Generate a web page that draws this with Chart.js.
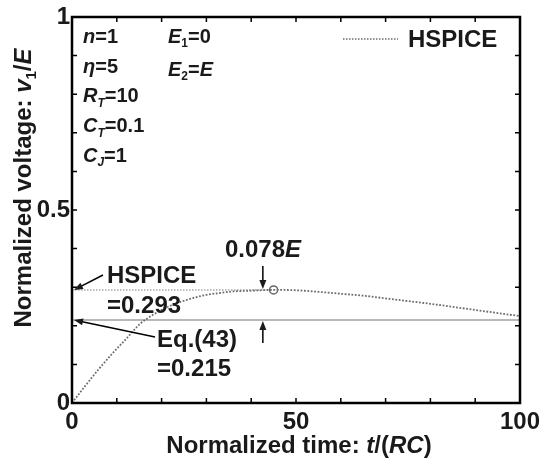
<!DOCTYPE html>
<html>
<head>
<meta charset="utf-8">
<style>
  html, body { margin: 0; padding: 0; background: #fff; }
  #wrap { width: 553px; height: 464px; }
</style>
<script src="https://cdn.jsdelivr.net/npm/chart.js@4/dist/chart.umd.min.js"></script>
</head>
<body>
<div id="wrap"><canvas id="c" width="553" height="464"></canvas></div>
<script>
// HSPICE response, normalized time vs normalized voltage
const tHspice = [0, 3, 6, 9, 12, 15, 18, 21, 24, 27, 30, 33, 36, 40, 45, 50, 55, 60, 65, 70, 75, 80, 85, 90, 95, 100];
const vHspice = [0, 0.045, 0.088, 0.128, 0.165, 0.203, 0.228, 0.247, 0.261, 0.272, 0.280, 0.285, 0.289, 0.291, 0.293, 0.292, 0.288, 0.283, 0.278, 0.271, 0.264, 0.257, 0.249, 0.241, 0.233, 0.225];

const tPeak = 45;
const vPeak = 0.293;   // HSPICE max
const vEq = 0.215;     // Eq.(43)
const tArrow = 42.6;   // where the 0.078E gap arrows sit

const xRange = [0, 100];
const yRange = [0, 1];
const xLabels = { 0: '0', 50: '50', 100: '100' };
const yLabels = { 0: '0', 5: '0.5', 10: '1' };

const params = [
  [{ t: 'n', it: 1 }, { t: '=1' }],
  [{ t: '\u03b7', it: 1 }, { t: '=5' }],
  [{ t: 'R', it: 1 }, { t: 'T', it: 1, sub: 1 }, { t: '=10' }],
  [{ t: 'C', it: 1 }, { t: 'T', it: 1, sub: 1 }, { t: '=0.1' }],
  [{ t: 'C', it: 1 }, { t: 'J', it: 1, sub: 1 }, { t: '=1' }],
];
const params2 = [
  [{ t: 'E', it: 1 }, { t: '1', sub: 1 }, { t: '=0' }],
  [{ t: 'E', it: 1 }, { t: '2', sub: 1 }, { t: '=' }, { t: 'E', it: 1 }],
];

const FAM = '"Liberation Sans", Arial, sans-serif';
const curveColor = '#6e6e6e';

function font(size, it) {
  return (it ? 'italic ' : '') + 'bold ' + size + 'px ' + FAM;
}

// draw a run of mixed italic / subscript text, returns width
function runs(ctx, parts, x, y, size, align) {
  const subSize = Math.round(size * 0.62);
  let w = 0;
  for (const p of parts) {
    ctx.font = font(p.sub ? subSize : size, p.it);
    w += ctx.measureText(p.t).width;
  }
  let cx = align === 'center' ? x - w / 2 : x;
  ctx.textAlign = 'left';
  ctx.textBaseline = 'alphabetic';
  for (const p of parts) {
    ctx.font = font(p.sub ? subSize : size, p.it);
    ctx.fillText(p.t, cx, y + (p.sub ? size * 0.22 : 0));
    cx += ctx.measureText(p.t).width;
  }
  return w;
}

function arrow(ctx, x1, y1, x2, y2) {
  const a = Math.atan2(y2 - y1, x2 - x1);
  const hl = 9, hw = 3.5;
  ctx.beginPath();
  ctx.moveTo(x1, y1);
  ctx.lineTo(x2 - Math.cos(a) * hl * 0.8, y2 - Math.sin(a) * hl * 0.8);
  ctx.stroke();
  ctx.beginPath();
  ctx.moveTo(x2, y2);
  ctx.lineTo(x2 - Math.cos(a) * hl - Math.sin(a) * hw, y2 - Math.sin(a) * hl + Math.cos(a) * hw);
  ctx.lineTo(x2 - Math.cos(a) * hl + Math.sin(a) * hw, y2 - Math.sin(a) * hl - Math.cos(a) * hw);
  ctx.closePath();
  ctx.fill();
}

const decor = {
  id: 'decor',
  afterDraw(chart) {
    const ctx = chart.ctx;
    const a = chart.chartArea;
    const xs = chart.scales.x, ys = chart.scales.y;
    ctx.save();
    ctx.strokeStyle = '#000';
    ctx.fillStyle = '#000';

    // inner ticks on all four sides
    ctx.lineWidth = 1.5;
    ctx.beginPath();
    for (const tk of xs.ticks) {
      const px = xs.getPixelForValue(tk.value);
      ctx.moveTo(px, a.bottom); ctx.lineTo(px, a.bottom - 5);
      ctx.moveTo(px, a.top); ctx.lineTo(px, a.top + 5);
    }
    for (const tk of ys.ticks) {
      const py = ys.getPixelForValue(tk.value);
      ctx.moveTo(a.left, py); ctx.lineTo(a.left + 5, py);
      ctx.moveTo(a.right, py); ctx.lineTo(a.right - 5, py);
    }
    ctx.stroke();

    // frame
    ctx.lineWidth = 2.5;
    ctx.strokeRect(a.left, a.top, a.right - a.left, a.bottom - a.top);

    // parameter block
    ctx.fillStyle = '#1a1a1a';
    params.forEach((p, i) => runs(ctx, p, 83, 43 + i * 29.7, 20));
    params2.forEach((p, i) => runs(ctx, p, 168, 43 + i * 33, 20));

    // legend
    ctx.save();
    ctx.strokeStyle = curveColor;
    ctx.lineWidth = 1.5;
    ctx.setLineDash([1.5, 1.5]);
    ctx.beginPath();
    ctx.moveTo(343, 39); ctx.lineTo(398, 39);
    ctx.stroke();
    ctx.restore();
    runs(ctx, [{ t: 'HSPICE' }], 408, 47, 24);

    // annotations
    const yP = ys.getPixelForValue(vPeak);
    const yE = ys.getPixelForValue(vEq);
    const x0 = xs.getPixelForValue(0);
    const xA = xs.getPixelForValue(tArrow);
    runs(ctx, [{ t: 'HSPICE' }], 107, 283, 24);
    runs(ctx, [{ t: '=0.293' }], 107, 313, 24);
    runs(ctx, [{ t: 'Eq.(43)' }], 157, 347, 24);
    runs(ctx, [{ t: '=0.215' }], 157, 376, 24);
    runs(ctx, [{ t: '0.078' }, { t: 'E', it: 1 }], 225, 257, 24);

    ctx.lineWidth = 1.5;
    arrow(ctx, 103, 275, x0 + 2, yP);
    arrow(ctx, 155, 337, x0 + 2, yE);
    arrow(ctx, xA, 266, xA, yP - 1);
    arrow(ctx, xA, 343, xA, yE + 1);

    // axis titles
    runs(ctx, [{ t: 'Normalized time: ' }, { t: 't', it: 1 }, { t: '/(' }, { t: 'RC', it: 1 }, { t: ')' }], 299, 453, 24, 'center');
    ctx.translate(31, 188);
    ctx.rotate(-Math.PI / 2);
    runs(ctx, [{ t: 'Normalized voltage: ' }, { t: 'v', it: 1 }, { t: '1', sub: 1 }, { t: '/' }, { t: 'E', it: 1 }], 0, 0, 24, 'center');
    ctx.restore();
  }
};

new Chart(document.getElementById('c'), {
  type: 'scatter',
  data: {
    datasets: [
      {
        label: 'HSPICE',
        data: tHspice.map((t, i) => ({ x: t, y: vHspice[i] })),
        showLine: true,
        borderColor: curveColor,
        borderWidth: 1.8,
        borderDash: [1.8, 1.6],
        pointRadius: 0,
        cubicInterpolationMode: 'monotone',
      },
      {
        label: 'peak level',
        data: [{ x: 0, y: vPeak }, { x: tPeak, y: vPeak }],
        showLine: true,
        borderColor: '#a8a8a8',
        borderWidth: 1.5,
        borderDash: [1.5, 1.5],
        pointRadius: 0,
      },
      {
        label: 'Eq.(43)',
        data: [{ x: 0, y: vEq }, { x: 100, y: vEq }],
        showLine: true,
        borderColor: '#a0a0a0',
        borderWidth: 1.5,
        pointRadius: 0,
      },
      {
        label: 'max',
        data: [{ x: tPeak, y: vPeak }],
        pointStyle: 'circle',
        pointRadius: 4,
        pointBorderWidth: 1.5,
        pointBorderColor: '#666',
        pointBackgroundColor: 'rgba(255,255,255,0)',
      },
    ]
  },
  options: {
    responsive: false,
    animation: false,
    layout: { padding: { top: 17, right: 33, left: 0, bottom: 0 } },
    plugins: { legend: { display: false }, tooltip: { enabled: false } },
    scales: {
      x: {
        type: 'linear',
        min: xRange[0], max: xRange[1],
        grid: { display: false, drawTicks: false },
        border: { display: false },
        afterFit: s => { s.height = 61; },
        ticks: {
          stepSize: 10,
          autoSkip: false,
          maxRotation: 0,
          padding: 5,
          color: '#1a1a1a',
          font: { family: FAM, size: 24, weight: 'bold' },
          callback: v => xLabels[Math.round(v)] !== undefined ? xLabels[Math.round(v)] : '',
        },
      },
      y: {
        type: 'linear',
        min: yRange[0], max: yRange[1],
        grid: { display: false, drawTicks: false },
        border: { display: false },
        afterFit: s => { s.width = 72; },
        ticks: {
          stepSize: 0.1,
          autoSkip: false,
          padding: 2,
          color: '#1a1a1a',
          font: { family: FAM, size: 24, weight: 'bold' },
          callback: v => {
            const k = Math.round(v * 10);
            return yLabels[k] !== undefined ? yLabels[k] : '';
          },
        },
      },
    },
  },
  plugins: [decor],
});
</script>
</body>
</html>
